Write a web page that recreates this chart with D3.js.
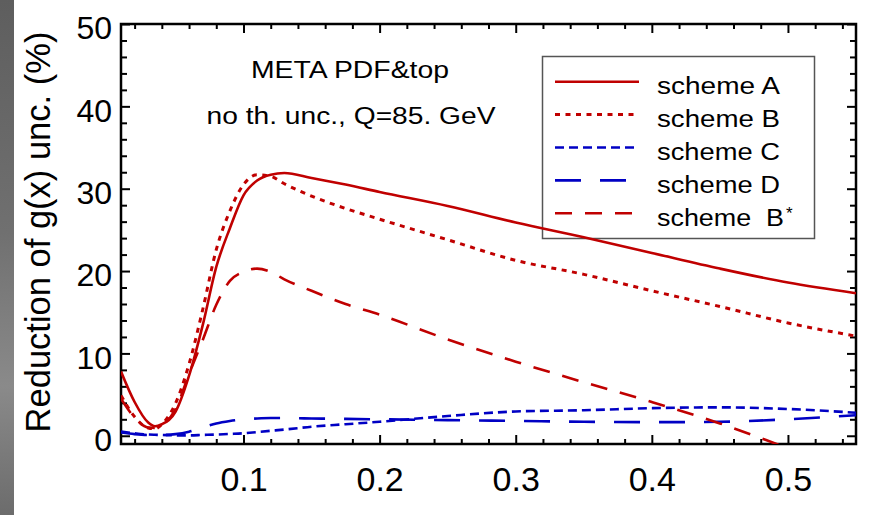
<!DOCTYPE html>
<html>
<head>
<meta charset="utf-8">
<script src="https://cdn.jsdelivr.net/npm/d3@7"></script>
<style>
  html, body { margin: 0; padding: 0; background: #fff; }
  svg text { font-family: "Liberation Sans", Arial, sans-serif; fill: #000; }
</style>
</head>
<body>
<svg id="chart" width="877" height="515"></svg>
<script>
// x values shared by all curves
const xs = [0.01, 0.02, 0.03, 0.035, 0.04, 0.05, 0.06, 0.07, 0.08, 0.09, 0.10, 0.11, 0.12, 0.13, 0.15, 0.175, 0.2, 0.25, 0.3, 0.35, 0.4, 0.45, 0.5, 0.55];

// reduction of g(x) uncertainty (%)
const schemeA = [7.8, 4.1, 1.6, 1.15, 1.4, 2.9, 7.3, 13.4, 20.5, 25.2, 29.2, 31.0, 31.7, 31.9, 31.3, 30.5, 29.6, 27.9, 25.9, 24.1, 22.2, 20.3, 18.6, 17.3];
const schemeB = [4.9, 2.3, 0.95, 0.85, 1.4, 3.9, 8.7, 15.3, 22.6, 27.3, 30.5, 31.7, 31.5, 30.6, 29.1, 27.6, 26.3, 23.8, 21.3, 19.6, 17.6, 15.7, 13.7, 12.1];
const schemeC = [0.5, 0.3, 0.15, 0.12, 0.1, 0.05, 0.05, 0.1, 0.15, 0.22, 0.3, 0.45, 0.6, 0.75, 1.1, 1.4, 1.7, 2.4, 2.95, 3.1, 3.35, 3.45, 3.25, 2.8];
const schemeD = [0.4, 0.2, 0.1, 0.1, 0.1, 0.2, 0.5, 1.0, 1.5, 1.8, 2.0, 2.1, 2.15, 2.15, 2.1, 2.05, 2.0, 1.9, 1.8, 1.7, 1.65, 1.7, 2.0, 2.5];
const schemeBstar = [4.5, 2.2, 1.0, 0.95, 1.3, 3.2, 7.5, 11.6, 15.9, 18.8, 19.9, 20.3, 19.9, 19.0, 17.6, 16.0, 14.7, 11.7, 9.0, 6.5, 4.1, 1.5, -1.5, -4.5];

const xMajor = [0.1, 0.2, 0.3, 0.4, 0.5];
const xMinor = [0.02, 0.04, 0.06, 0.08, 0.12, 0.14, 0.16, 0.18, 0.22, 0.24, 0.26, 0.28, 0.32, 0.34, 0.36, 0.38, 0.42, 0.44, 0.46, 0.48, 0.52, 0.54];
const yMajor = [0, 10, 20, 30, 40, 50];
const yMinor = [2, 4, 6, 8, 12, 14, 16, 18, 22, 24, 26, 28, 32, 34, 36, 38, 42, 44, 46, 48];

const legendNames = ["scheme A", "scheme B", "scheme C", "scheme D", "scheme  B"];

const red = "#c00000", blue = "#0000c4";
const series = [
  { name: legendNames[0], values: schemeA, color: red, dash: null, w: 2.6 },
  { name: legendNames[1], values: schemeB, color: red, dash: "5,5.5", w: 3 },
  { name: legendNames[2], values: schemeC, color: blue, dash: "9,5", w: 2.6 },
  { name: legendNames[3], values: schemeD, color: blue, dash: "26,19", w: 2.6 },
  { name: legendNames[4], values: schemeBstar, color: red, dash: "17,13", w: 2.6 }
];

const svg = d3.select("#chart");
const pL = 121, pR = 856, pT = 24, pB = 444;

// grey slide strip at the left
const grad = svg.append("defs").append("linearGradient")
  .attr("id", "strip").attr("x1", 0).attr("y1", 0).attr("x2", 0).attr("y2", 1);
grad.append("stop").attr("offset", "0%").attr("stop-color", "#5e5e5e");
grad.append("stop").attr("offset", "45%").attr("stop-color", "#707070");
grad.append("stop").attr("offset", "75%").attr("stop-color", "#8a8a8a");
grad.append("stop").attr("offset", "100%").attr("stop-color", "#6c6c6c");
svg.append("rect").attr("x", 0).attr("y", 0).attr("width", 14).attr("height", 515)
  .attr("fill", "url(#strip)");

const x = d3.scaleLinear().domain([0.01, 0.55]).range([pL, pR]);
const y = d3.scaleLinear().domain([-1, 50]).range([pB, pT]);

svg.append("clipPath").attr("id", "plotclip")
  .append("rect").attr("x", pL).attr("y", pT)
  .attr("width", pR - pL).attr("height", pB - pT);

// ticks, pointing inward on all four sides
function tickAxis(axis, transform, vals, size, labels) {
  const g = svg.append("g").attr("transform", transform)
    .call(axis.tickValues(vals).tickSize(size).tickFormat(labels ? axis.tickFormat() : ""));
  g.select(".domain").remove();
  g.selectAll(".tick line").attr("stroke", "#000").attr("stroke-width", 2);
  return g;
}

const yLab = tickAxis(d3.axisLeft(y).tickPadding(9), `translate(${pL},0)`, yMajor, -9, true);
yLab.selectAll("text").attr("font-size", 32).attr("dy", "0.46em")
  .attr("font-family", "Liberation Sans, Arial, sans-serif");
tickAxis(d3.axisLeft(y), `translate(${pL},0)`, yMinor, -6, false);
tickAxis(d3.axisRight(y), `translate(${pR},0)`, yMajor, -9, false);
tickAxis(d3.axisRight(y), `translate(${pR},0)`, yMinor, -6, false);

const xLab = tickAxis(d3.axisBottom(x).tickPadding(23).tickFormat(d3.format(".1f")),
  `translate(0,${pB})`, xMajor, -9, true);
xLab.selectAll("text").attr("font-size", 34)
  .attr("font-family", "Liberation Sans, Arial, sans-serif");
tickAxis(d3.axisBottom(x), `translate(0,${pB})`, xMinor, -5, false);
tickAxis(d3.axisTop(x), `translate(0,${pT})`, xMajor, -9, false);
tickAxis(d3.axisTop(x), `translate(0,${pT})`, xMinor, -5, false);

// frame
svg.append("rect").attr("x", pL).attr("y", pT)
  .attr("width", pR - pL).attr("height", pB - pT)
  .attr("fill", "none").attr("stroke", "#000").attr("stroke-width", 2.5);

// y title
svg.append("text")
  .attr("transform", "translate(50,232) rotate(-90)")
  .attr("text-anchor", "middle").attr("font-size", 34.5)
  .text("Reduction of g(x) unc. (%)");

// annotation
svg.append("text").attr("x", 350).attr("y", 78).attr("text-anchor", "middle")
  .attr("font-size", 23.3).attr("textLength", 198).attr("lengthAdjust", "spacingAndGlyphs")
  .text("META PDF&top");
svg.append("text").attr("x", 351).attr("y", 124).attr("text-anchor", "middle")
  .attr("font-size", 23.3).attr("textLength", 289).attr("lengthAdjust", "spacingAndGlyphs")
  .text("no th. unc., Q=85. GeV");

// legend
svg.append("rect").attr("x", 542.5).attr("y", 56.5).attr("width", 272).attr("height", 182)
  .attr("fill", "none").attr("stroke", "#555").attr("stroke-width", 1.5);

const rowY = d3.scalePoint().domain(legendNames).range([81.7, 213.3]);
const leg = svg.append("g").selectAll("g").data(series).join("g")
  .attr("transform", d => `translate(0,${rowY(d.name)})`);
leg.append("line").attr("x1", 555).attr("x2", 639)
  .attr("stroke", d => d.color).attr("stroke-width", d => d.w)
  .attr("stroke-dasharray", d => d.dash);
leg.append("text").attr("x", 657).attr("y", 12.6).attr("font-size", 23.3)
  .attr("textLength", (d, i) => i === 4 ? 127 : 123).attr("lengthAdjust", "spacingAndGlyphs")
  .style("white-space", "pre")
  .text(d => d.name);
svg.append("text").attr("x", 786).attr("y", rowY(legendNames[4]) + 6)
  .attr("font-size", 17).text("*");

// curves
const line = d3.line()
  .x((d, i) => x(xs[i]))
  .y(d => y(d))
  .curve(d3.curveMonotoneX);

svg.append("g").attr("clip-path", "url(#plotclip)")
  .selectAll("path").data(series).join("path")
  .attr("d", d => line(d.values))
  .attr("fill", "none")
  .attr("stroke", d => d.color)
  .attr("stroke-width", d => d.w)
  .attr("stroke-dasharray", d => d.dash);
</script>
</body>
</html>
